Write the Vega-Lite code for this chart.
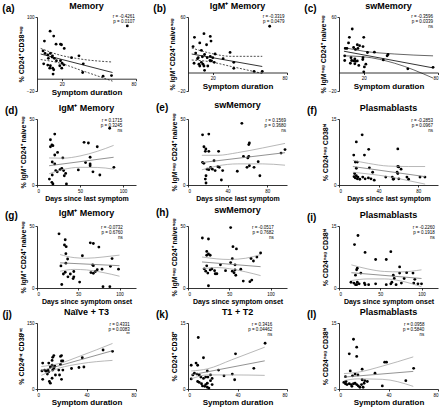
{
"$schema": "https://vega.github.io/schema/vega-lite/v6.json",
"padding": {"left": 2, "top": 2, "right": 0, "bottom": 0},
"background": "white",
"columns": 3,
"spacing": {"row": 3, "column": 16},
"datasets": {
"a_p": [{"x":6,"y":61},{"x":10.6,"y":77},{"x":13.5,"y":69},{"x":15.4,"y":56},{"x":19,"y":56},{"x":19.8,"y":55},{"x":22,"y":49},{"x":4.9,"y":45},{"x":6.5,"y":41},{"x":8.7,"y":38.5},{"x":10.8,"y":41},{"x":12.5,"y":37},{"x":9.2,"y":33},{"x":12.2,"y":35},{"x":14,"y":33},{"x":15.7,"y":29},{"x":19,"y":29},{"x":20.3,"y":25},{"x":18.4,"y":21},{"x":21.7,"y":22.5},{"x":20,"y":17},{"x":5.4,"y":24},{"x":8.7,"y":22},{"x":10.8,"y":21},{"x":12.7,"y":17},{"x":13.5,"y":14.5},{"x":13,"y":7.5},{"x":10.3,"y":17},{"x":27.9,"y":34},{"x":33.9,"y":37},{"x":37.4,"y":24},{"x":36.9,"y":10},{"x":53.4,"y":4},{"x":60.2,"y":5},{"x":73,"y":85.5}],
"a_l": [{"s":"fit","x":3,"y":40},{"s":"fit","x":61,"y":10},{"s":"hi","x":3,"y":49},{"s":"hi","x":18,"y":38.5},{"s":"hi","x":35,"y":31.9},{"s":"hi","x":61,"y":27},{"s":"lo","x":3,"y":31},{"s":"lo","x":18,"y":25.5},{"s":"lo","x":35,"y":14},{"s":"lo","x":61,"y":-4}],
"a_s": [{"t":"r = -0.4261\np = 0.0107"}],
"b_p": [{"x":5.2,"y":38},{"x":12.9,"y":42},{"x":9.5,"y":32},{"x":18,"y":39},{"x":18.6,"y":34},{"x":15,"y":30},{"x":4.1,"y":28},{"x":10.8,"y":24},{"x":21.9,"y":20},{"x":6.2,"y":21},{"x":8.3,"y":16},{"x":7.7,"y":15},{"x":11.6,"y":17},{"x":13.4,"y":19.5},{"x":15.5,"y":16},{"x":18,"y":17.5},{"x":20,"y":16},{"x":4.9,"y":10},{"x":8.8,"y":9},{"x":10.8,"y":11},{"x":12.1,"y":9},{"x":12.9,"y":7},{"x":17.8,"y":13},{"x":19,"y":12.6},{"x":21.2,"y":11},{"x":16,"y":7},{"x":13.4,"y":2.3},{"x":34,"y":21.7},{"x":28.4,"y":15},{"x":37,"y":11},{"x":37,"y":4.5},{"x":53.4,"y":1.3},{"x":60,"y":1.3},{"x":66,"y":50},{"x":9.5,"y":7}],
"b_l": [{"s":"fit","x":3,"y":20},{"s":"fit","x":60,"y":6.5},{"s":"hi","x":3,"y":26.5},{"s":"hi","x":16,"y":21.5},{"s":"hi","x":35,"y":17.5},{"s":"hi","x":60,"y":17.5},{"s":"lo","x":3,"y":13.5},{"s":"lo","x":16,"y":12},{"s":"lo","x":35,"y":6.5},{"s":"lo","x":60,"y":-1}],
"b_s": [{"t":"r = -0.3319\np = 0.0479"}],
"c_p": [{"x":10.7,"y":47},{"x":8.4,"y":38},{"x":20,"y":38},{"x":7.7,"y":32},{"x":14.8,"y":30},{"x":16.6,"y":29},{"x":11.8,"y":27},{"x":19.4,"y":28},{"x":5.1,"y":26},{"x":6.4,"y":26},{"x":13.3,"y":25},{"x":15.3,"y":26},{"x":23,"y":21.6},{"x":28.6,"y":22},{"x":4.6,"y":18},{"x":9.7,"y":16},{"x":12.8,"y":14.6},{"x":19.4,"y":16},{"x":19.2,"y":14},{"x":4.6,"y":13},{"x":10.2,"y":13},{"x":11.8,"y":12.5},{"x":13.3,"y":12},{"x":14.8,"y":12.5},{"x":9.2,"y":10},{"x":12.8,"y":9.4},{"x":16,"y":7.7},{"x":21.7,"y":9},{"x":20.5,"y":6},{"x":20,"y":0.7},{"x":38.9,"y":18},{"x":39.6,"y":19.5},{"x":35.8,"y":13.6},{"x":55.6,"y":4},{"x":76,"y":5.6}],
"c_l": [{"s":"fit","x":4,"y":23},{"s":"fit","x":76,"y":5},{"s":"hi","x":4,"y":27},{"s":"hi","x":20,"y":23},{"s":"hi","x":45,"y":20},{"s":"hi","x":76,"y":18},{"s":"lo","x":4,"y":18},{"s":"lo","x":20,"y":17},{"s":"lo","x":45,"y":10},{"s":"lo","x":76,"y":-6}],
"c_s": [{"t":"r = -0.3596\np = 0.0339\nns"}],
"d_p": [{"x":20.6,"y":38.6},{"x":15.6,"y":34.3},{"x":17.3,"y":30.3},{"x":18.5,"y":29.8},{"x":15.6,"y":29},{"x":23.9,"y":24.7},{"x":20.6,"y":22.7},{"x":17.7,"y":17.4},{"x":20.6,"y":16},{"x":21.8,"y":10.9},{"x":23.5,"y":10},{"x":26.7,"y":11.6},{"x":28.8,"y":12.6},{"x":30.9,"y":10.9},{"x":33.3,"y":8.8},{"x":31.7,"y":7},{"x":30,"y":20.5},{"x":17.7,"y":7.6},{"x":14.4,"y":4.5},{"x":17.3,"y":2},{"x":18.5,"y":0.8},{"x":34.2,"y":0.8},{"x":48,"y":11.4},{"x":54.7,"y":32.3},{"x":59.7,"y":31.8},{"x":56.4,"y":17},{"x":61.7,"y":16},{"x":61.7,"y":14.6},{"x":61.7,"y":21},{"x":65,"y":10},{"x":70,"y":29},{"x":73,"y":7.6},{"x":84.4,"y":43},{"x":89.3,"y":13.4}],
"d_l": [{"s":"fit","x":14,"y":14.6},{"s":"fit","x":89,"y":21},{"s":"hi","x":14,"y":20.5},{"s":"hi","x":30,"y":20.3},{"s":"hi","x":50,"y":22},{"s":"hi","x":70,"y":25.5},{"s":"hi","x":89,"y":30},{"s":"lo","x":14,"y":8.5},{"s":"lo","x":30,"y":11.7},{"s":"lo","x":50,"y":13.4},{"s":"lo","x":70,"y":13.3},{"s":"lo","x":89,"y":12}],
"d_s": [{"t":"r = 0.1715\np = 0.3245\nns"}],
"e_p": [{"x":14.7,"y":38},{"x":21,"y":38.6},{"x":16.1,"y":29},{"x":18,"y":27.3},{"x":17.5,"y":25.5},{"x":21,"y":25.5},{"x":30.9,"y":25.5},{"x":14.7,"y":17.2},{"x":16,"y":16.4},{"x":26.3,"y":18.4},{"x":19.3,"y":12},{"x":21,"y":11.6},{"x":22.8,"y":13.4},{"x":24.6,"y":12},{"x":27.4,"y":10.9},{"x":30.2,"y":13.9},{"x":31.6,"y":13.4},{"x":35,"y":10.9},{"x":33.7,"y":3.8},{"x":18.2,"y":7},{"x":17.5,"y":4.5},{"x":18.2,"y":1.5},{"x":49.8,"y":10.4},{"x":54.4,"y":46.7},{"x":56,"y":21.7},{"x":61.4,"y":30.6},{"x":62,"y":31.8},{"x":60.4,"y":20.5},{"x":61.4,"y":21.7},{"x":59.6,"y":13.4},{"x":62,"y":14.6},{"x":66.7,"y":13.4},{"x":70.9,"y":17.7},{"x":72.6,"y":7},{"x":94,"y":24.2},{"x":98,"y":26.8}],
"e_l": [{"s":"fit","x":14,"y":17},{"s":"fit","x":98,"y":24.5},{"s":"hi","x":14,"y":22.5},{"s":"hi","x":30,"y":22.5},{"s":"hi","x":50,"y":24.5},{"s":"hi","x":75,"y":28},{"s":"hi","x":98,"y":31.5},{"s":"lo","x":14,"y":11.5},{"s":"lo","x":30,"y":14.5},{"s":"lo","x":50,"y":16},{"s":"lo","x":75,"y":16},{"s":"lo","x":98,"y":15}],
"e_s": [{"t":"r = 0.1569\np = 0.3680\nns"}],
"f_p": [{"x":23.4,"y":11.4},{"x":17.5,"y":9.8},{"x":30,"y":8.1},{"x":59.4,"y":8.2},{"x":14.9,"y":6.8},{"x":25.7,"y":6.8},{"x":16.5,"y":5.2},{"x":18.5,"y":5.2},{"x":59.4,"y":4.2},{"x":60.4,"y":4.1},{"x":30.7,"y":3.9},{"x":17.5,"y":3.8},{"x":62.7,"y":3.6},{"x":34,"y":2.9},{"x":58.7,"y":2.9},{"x":15.8,"y":2.6},{"x":59.4,"y":2.6},{"x":17.5,"y":2.1},{"x":19.1,"y":1.8},{"x":16.5,"y":1.6},{"x":18.5,"y":1.4},{"x":21,"y":1.3},{"x":24,"y":1.8},{"x":26.4,"y":1.4},{"x":29.7,"y":1.6},{"x":32.3,"y":1.4},{"x":35.6,"y":1.1},{"x":47.2,"y":1.8},{"x":53.8,"y":1.8},{"x":54.8,"y":1.3},{"x":55.4,"y":1.4},{"x":60.4,"y":1.4},{"x":68.6,"y":1.8},{"x":70.3,"y":1.3},{"x":81.8,"y":1.8},{"x":86.8,"y":1.8},{"x":15.2,"y":1.9}],
"f_l": [{"s":"fit","x":14,"y":4.2},{"s":"fit","x":87,"y":1.9},{"s":"hi","x":14,"y":5.6},{"s":"hi","x":30,"y":4.9},{"s":"hi","x":50,"y":4.3},{"s":"hi","x":70,"y":4.2},{"s":"hi","x":87,"y":4.2},{"s":"lo","x":14,"y":2.9},{"s":"lo","x":30,"y":2.5},{"s":"lo","x":50,"y":1.9},{"s":"lo","x":70,"y":1.0},{"s":"lo","x":87,"y":0.2}],
"f_s": [{"t":"r = -0.2853\np = 0.0967\nns"}],
"g_p": [{"x":26.7,"y":43.7},{"x":34.2,"y":38.9},{"x":33.3,"y":34.7},{"x":35.4,"y":33.3},{"x":35,"y":27.7},{"x":37.1,"y":23.4},{"x":35,"y":20},{"x":29,"y":17.8},{"x":32,"y":11.3},{"x":34.2,"y":12.7},{"x":37.5,"y":9},{"x":40.4,"y":11.3},{"x":43.8,"y":7.6},{"x":44.6,"y":9},{"x":44.6,"y":13.3},{"x":51.7,"y":4.8},{"x":55,"y":26},{"x":64.6,"y":36.4},{"x":68.3,"y":35.9},{"x":65.4,"y":12.4},{"x":68.3,"y":11.9},{"x":67.5,"y":18.6},{"x":68.3,"y":18},{"x":70.8,"y":13.3},{"x":73,"y":14.7},{"x":75,"y":33},{"x":78.8,"y":15.2},{"x":80,"y":1.1},{"x":88.3,"y":1.1},{"x":89,"y":17.5},{"x":91,"y":23.7},{"x":98.8,"y":15.2},{"x":30,"y":2.8}],
"g_l": [{"s":"fit","x":28,"y":20.3},{"s":"fit","x":100,"y":18},{"s":"hi","x":28,"y":27},{"s":"hi","x":45,"y":24.5},{"s":"hi","x":60,"y":24},{"s":"hi","x":80,"y":25},{"s":"hi","x":100,"y":26.5},{"s":"lo","x":28,"y":13.5},{"s":"lo","x":45,"y":15},{"s":"lo","x":60,"y":14.6},{"s":"lo","x":80,"y":12.5},{"s":"lo","x":100,"y":9.5}],
"g_s": [{"t":"r = -0.0732\np = 0.6760\nns"}],
"h_p": [{"x":17.4,"y":40.3},{"x":24.8,"y":39.5},{"x":22.7,"y":29.5},{"x":24.8,"y":27.4},{"x":22.7,"y":26.4},{"x":26.9,"y":26.4},{"x":51.7,"y":48.7},{"x":54.5,"y":33.3},{"x":58.7,"y":31.5},{"x":53.7,"y":23.6},{"x":51.7,"y":20.5},{"x":57,"y":18.7},{"x":19.8,"y":15.4},{"x":22.7,"y":17.9},{"x":21.5,"y":13.6},{"x":24,"y":12},{"x":26.9,"y":14.6},{"x":28.9,"y":15.4},{"x":32.2,"y":14},{"x":33,"y":11.5},{"x":35,"y":11.5},{"x":39.3,"y":18.7},{"x":45.5,"y":14},{"x":53.7,"y":13.6},{"x":55.8,"y":12.3},{"x":57.9,"y":10.3},{"x":57,"y":14.6},{"x":64,"y":15.1},{"x":67,"y":5.6},{"x":75,"y":5.1},{"x":77.3,"y":6.4},{"x":76.4,"y":23.8},{"x":79.3,"y":21.8},{"x":83.5,"y":24.9},{"x":88,"y":28.2},{"x":24.8,"y":1.8}],
"h_l": [{"s":"fit","x":17,"y":21},{"s":"fit","x":88,"y":17.2},{"s":"hi","x":17,"y":25},{"s":"hi","x":35,"y":23.5},{"s":"hi","x":50,"y":23},{"s":"hi","x":70,"y":24},{"s":"hi","x":88,"y":27},{"s":"lo","x":17,"y":15.5},{"s":"lo","x":35,"y":16.5},{"s":"lo","x":50,"y":15.6},{"s":"lo","x":70,"y":13},{"s":"lo","x":88,"y":10}],
"h_s": [{"t":"r = -0.0517\np = 0.7682\nns"}],
"i_p": [{"x":23,"y":12.7},{"x":18.8,"y":10.5},{"x":31.6,"y":8.6},{"x":44.4,"y":6.9},{"x":57.3,"y":6.9},{"x":62.8,"y":8.8},{"x":22.2,"y":4.8},{"x":21.4,"y":4.4},{"x":26.5,"y":3.6},{"x":20,"y":3.1},{"x":65.8,"y":3.1},{"x":73.5,"y":5.1},{"x":73.5,"y":3.6},{"x":82,"y":3.7},{"x":79,"y":2.3},{"x":67,"y":2.3},{"x":14.5,"y":1.4},{"x":18,"y":1.2},{"x":20,"y":0.8},{"x":22.2,"y":1.4},{"x":21.4,"y":0.8},{"x":24.4,"y":1},{"x":30.8,"y":1.2},{"x":31.6,"y":0.8},{"x":35.9,"y":0.8},{"x":44.4,"y":1},{"x":57.3,"y":0.8},{"x":62.8,"y":1},{"x":64.1,"y":1.4},{"x":69.2,"y":0.8},{"x":75.6,"y":1.2},{"x":90.6,"y":1.2},{"x":95.7,"y":1},{"x":89.7,"y":3.6},{"x":91.9,"y":2.1},{"x":100,"y":1}],
"i_l": [{"s":"fit","x":15,"y":3.7},{"s":"fit","x":100,"y":2.3},{"s":"hi","x":15,"y":5.6},{"s":"hi","x":35,"y":4.6},{"s":"hi","x":55,"y":4.0},{"s":"hi","x":75,"y":3.9},{"s":"hi","x":100,"y":4.4},{"s":"lo","x":15,"y":1.8},{"s":"lo","x":35,"y":2.2},{"s":"lo","x":55,"y":2.2},{"s":"lo","x":75,"y":1.7},{"s":"lo","x":100,"y":0.3}],
"i_s": [{"t":"r = -0.2260\np = 0.1918\nns"}],
"j_p": [{"x":4.6,"y":59},{"x":4,"y":41},{"x":6.2,"y":43},{"x":7.3,"y":40.6},{"x":8.9,"y":43},{"x":9.5,"y":39},{"x":8.4,"y":34},{"x":4.6,"y":22},{"x":10.8,"y":50},{"x":12.2,"y":54},{"x":12.7,"y":43},{"x":13.6,"y":46.6},{"x":14.4,"y":51.7},{"x":12.2,"y":65},{"x":12.7,"y":72},{"x":13.6,"y":76},{"x":9.5,"y":59},{"x":17.6,"y":43},{"x":19,"y":56},{"x":19.8,"y":63.6},{"x":19,"y":74},{"x":19.8,"y":76},{"x":18.2,"y":31.8},{"x":20.9,"y":43},{"x":19.8,"y":22},{"x":14.9,"y":31.8},{"x":12.2,"y":24.4},{"x":10,"y":17},{"x":10.8,"y":13.3},{"x":27.9,"y":46.6},{"x":33.9,"y":48.8},{"x":37.9,"y":50},{"x":36.6,"y":71},{"x":53.4,"y":88.7},{"x":61,"y":85.7},{"x":20.9,"y":63.6}],
"j_l": [{"s":"fit","x":3.5,"y":41.4},{"s":"fit","x":61,"y":87},{"s":"hi","x":3.5,"y":51},{"s":"hi","x":18,"y":58},{"s":"hi","x":35,"y":75},{"s":"hi","x":61,"y":103.5},{"s":"lo","x":3.5,"y":31},{"s":"lo","x":18,"y":47.5},{"s":"lo","x":35,"y":57.5},{"s":"lo","x":61,"y":65}],
"j_s": [{"t":"r = 0.4331\np = 0.0083\n**"}],
"k_p": [{"x":8.3,"y":11.7},{"x":12.5,"y":7.1},{"x":2.6,"y":5.4},{"x":6.5,"y":5.9},{"x":7.8,"y":5.4},{"x":3.9,"y":3.2},{"x":5.2,"y":3.6},{"x":7.3,"y":3.4},{"x":9.1,"y":3.2},{"x":2.6,"y":2.3},{"x":10.4,"y":2.7},{"x":12.5,"y":2.4},{"x":14.3,"y":2.7},{"x":15.6,"y":4.1},{"x":16.1,"y":2.7},{"x":18.2,"y":3.2},{"x":19.5,"y":2.4},{"x":7.8,"y":1.7},{"x":9.1,"y":1.5},{"x":10.9,"y":1.2},{"x":11.7,"y":0.7},{"x":13.5,"y":0.6},{"x":14.3,"y":1},{"x":15.6,"y":0.4},{"x":16.9,"y":0.2},{"x":19.5,"y":1},{"x":15.6,"y":1.3},{"x":24.7,"y":4.3},{"x":29.1,"y":3},{"x":35.8,"y":3.4},{"x":37.7,"y":2.1},{"x":38.4,"y":8},{"x":53.2,"y":4.7},{"x":62.3,"y":10.4},{"x":18.2,"y":1.9}],
"k_l": [{"s":"fit","x":2.6,"y":3.2},{"s":"fit","x":62,"y":6.4},{"s":"hi","x":2.6,"y":4.1},{"s":"hi","x":16,"y":4.6},{"s":"hi","x":35,"y":6.6},{"s":"hi","x":62,"y":9.5},{"s":"lo","x":2.6,"y":2.3},{"s":"lo","x":16,"y":3.2},{"s":"lo","x":35,"y":3.2},{"s":"lo","x":62,"y":3.1}],
"k_s": [{"t":"r = 0.3416\np = 0.04462\nns"}],
"l_p": [{"x":11.7,"y":11.3},{"x":14.3,"y":9.5},{"x":8.3,"y":8},{"x":14.3,"y":7.4},{"x":9.1,"y":4.1},{"x":13,"y":3.4},{"x":15.3,"y":3.2},{"x":18.7,"y":4.5},{"x":10.9,"y":3},{"x":5.2,"y":2.8},{"x":29.1,"y":3.6},{"x":36.9,"y":6.1},{"x":38.4,"y":6.1},{"x":18.7,"y":2.1},{"x":20.8,"y":1.9},{"x":22.9,"y":1.7},{"x":3.9,"y":1.5},{"x":5.2,"y":1.2},{"x":6.5,"y":1},{"x":8.3,"y":1.2},{"x":9.9,"y":1},{"x":10.4,"y":0.6},{"x":11.7,"y":1.2},{"x":13,"y":1.3},{"x":14.3,"y":1},{"x":15.6,"y":0.7},{"x":16.9,"y":0.4},{"x":18.2,"y":1},{"x":19.5,"y":0.4},{"x":35,"y":0.7},{"x":54,"y":1.9},{"x":60.3,"y":4.7},{"x":20.3,"y":1.3},{"x":5.7,"y":1.7}],
"l_l": [{"s":"fit","x":4,"y":2.7},{"s":"fit","x":60,"y":4.0},{"s":"hi","x":4,"y":3.5},{"s":"hi","x":15,"y":3.8},{"s":"hi","x":35,"y":5.2},{"s":"hi","x":60,"y":7.3},{"s":"lo","x":4,"y":1.9},{"s":"lo","x":15,"y":2.3},{"s":"lo","x":35,"y":2.2},{"s":"lo","x":60,"y":0.6}],
"l_s": [{"t":"r = 0.0958\np = 0.5840\nns"}]
},
"concat": [
{"title": {"text": "(a)", "anchor": "start", "frame": "bounds", "fontSize": 10, "fontWeight": "bold", "dx": -15, "offset": -12},
 "vconcat": [{"width": 99, "height": 74,
  "title": {"text": "Memory", "fontSize": 9, "fontWeight": "bold", "anchor": "middle", "frame": "group", "offset": 3},
  "layer": [
   {"data": {"name": "a_p"}, "mark": {"type": "circle", "size": 8, "color": "black", "opacity": 1},
    "encoding": {"x": {"field": "x", "type": "quantitative", "scale": {"domain": [0, 80], "nice": false}, "axis": {"values": [20, 40, 60, 80], "offset": -12.3, "title": "Symptom duration", "titleFontSize": 8}},
     "y": {"field": "y", "type": "quantitative", "scale": {"domain": [-20, 100], "nice": false}, "axis": {"values": [-20, 0, 20, 40, 60, 80, 100], "title": "% CD24⁺ CD38ⁿᵉᵍ"}}}},
   {"data": {"name": "a_l"}, "transform": [{"filter": "datum.s == 'fit'"}], "mark": {"type": "line", "color": "black", "strokeWidth": 0.8}, "encoding": {"x": {"field": "x", "type": "quantitative"}, "y": {"field": "y", "type": "quantitative"}}},
   {"data": {"name": "a_l"}, "transform": [{"filter": "datum.s != 'fit'"}], "mark": {"type": "line", "color": "black", "strokeWidth": 0.7, "strokeDash": [2, 1.5], "interpolate": "monotone"}, "encoding": {"x": {"field": "x", "type": "quantitative"}, "y": {"field": "y", "type": "quantitative"}, "detail": {"field": "s"}}},
   {"data": {"name": "a_s"}, "mark": {"type": "text", "align": "right", "baseline": "top", "fontSize": 4.5, "lineBreak": "\n", "lineHeight": 5, "dy": -3}, "encoding": {"x": {"datum": 79}, "y": {"datum": 100}, "text": {"field": "t"}}}
  ]}]},
{"title": {"text": "(b)", "anchor": "start", "frame": "bounds", "fontSize": 10, "fontWeight": "bold", "dx": -15, "offset": -12},
 "vconcat": [{"width": 99, "height": 74,
  "title": {"text": "IgM⁺ Memory", "fontSize": 9, "fontWeight": "bold", "anchor": "middle", "frame": "group", "offset": 3},
  "layer": [
   {"data": {"name": "b_p"}, "mark": {"type": "circle", "size": 8, "color": "black", "opacity": 1},
    "encoding": {"x": {"field": "x", "type": "quantitative", "scale": {"domain": [0, 80], "nice": false}, "axis": {"values": [20, 40, 60, 80], "offset": -18.5, "title": "Symptom duration", "titleFontSize": 8}},
     "y": {"field": "y", "type": "quantitative", "scale": {"domain": [-20, 60], "nice": false}, "axis": {"values": [-20, 0, 20, 40, 60], "title": "% IgM⁺ CD24⁺ naiveⁿᵉᵍ"}}}},
   {"data": {"name": "b_l"}, "transform": [{"filter": "datum.s == 'fit'"}], "mark": {"type": "line", "color": "black", "strokeWidth": 0.8}, "encoding": {"x": {"field": "x", "type": "quantitative"}, "y": {"field": "y", "type": "quantitative"}}},
   {"data": {"name": "b_l"}, "transform": [{"filter": "datum.s != 'fit'"}], "mark": {"type": "line", "color": "black", "strokeWidth": 0.7, "strokeDash": [2, 1.5], "interpolate": "monotone"}, "encoding": {"x": {"field": "x", "type": "quantitative"}, "y": {"field": "y", "type": "quantitative"}, "detail": {"field": "s"}}},
   {"data": {"name": "b_s"}, "mark": {"type": "text", "align": "right", "baseline": "top", "fontSize": 4.5, "lineBreak": "\n", "lineHeight": 5, "dy": -3}, "encoding": {"x": {"datum": 78}, "y": {"datum": 60}, "text": {"field": "t"}}}
  ]}]},
{"title": {"text": "(c)", "anchor": "start", "frame": "bounds", "fontSize": 10, "fontWeight": "bold", "dx": -15, "offset": -12},
 "vconcat": [{"width": 99, "height": 74,
  "title": {"text": "swMemory", "fontSize": 9, "fontWeight": "bold", "anchor": "middle", "frame": "group", "offset": 3},
  "layer": [
   {"data": {"name": "c_p"}, "mark": {"type": "circle", "size": 8, "color": "black", "opacity": 1},
    "encoding": {"x": {"field": "x", "type": "quantitative", "scale": {"domain": [0, 80], "nice": false}, "axis": {"values": [20, 40, 60, 80], "offset": -18.5, "title": "Symptom duration", "titleFontSize": 8}},
     "y": {"field": "y", "type": "quantitative", "scale": {"domain": [-20, 60], "nice": false}, "axis": {"values": [-20, 0, 20, 40, 60], "title": "% IgMⁿᵉᵍ CD24⁺ naiveⁿᵉᵍ"}}}},
   {"data": {"name": "c_l"}, "transform": [{"filter": "datum.s == 'fit'"}], "mark": {"type": "line", "color": "black", "strokeWidth": 0.8}, "encoding": {"x": {"field": "x", "type": "quantitative"}, "y": {"field": "y", "type": "quantitative"}}},
   {"data": {"name": "c_l"}, "transform": [{"filter": "datum.s != 'fit'"}], "mark": {"type": "line", "color": "black", "strokeWidth": 0.6, "interpolate": "monotone"}, "encoding": {"x": {"field": "x", "type": "quantitative"}, "y": {"field": "y", "type": "quantitative"}, "detail": {"field": "s"}}},
   {"data": {"name": "c_s"}, "mark": {"type": "text", "align": "right", "baseline": "top", "fontSize": 4.5, "lineBreak": "\n", "lineHeight": 5, "dy": -3}, "encoding": {"x": {"datum": 76}, "y": {"datum": 60}, "text": {"field": "t"}}}
  ]}]},
{"title": {"text": "(d)", "anchor": "start", "frame": "bounds", "fontSize": 10, "fontWeight": "bold", "dx": -15, "offset": -12},
 "vconcat": [{"width": 99, "height": 66,
  "title": {"text": "IgM⁺ Memory", "fontSize": 9, "fontWeight": "bold", "anchor": "middle", "frame": "group", "offset": 3},
  "layer": [
   {"data": {"name": "d_p"}, "mark": {"type": "circle", "size": 8, "color": "black", "opacity": 1},
    "encoding": {"x": {"field": "x", "type": "quantitative", "scale": {"domain": [0, 115], "nice": false}, "axis": {"values": [0, 50, 100], "title": "Days since last symptom"}},
     "y": {"field": "y", "type": "quantitative", "scale": {"domain": [0, 50], "nice": false}, "axis": {"values": [0, 10, 20, 30, 40, 50], "title": "% IgM⁺ CD24⁺ naiveⁿᵉᵍ"}}}},
   {"data": {"name": "d_l"}, "transform": [{"filter": "datum.s == 'fit'"}], "mark": {"type": "line", "color": "#777", "strokeWidth": 0.8}, "encoding": {"x": {"field": "x", "type": "quantitative"}, "y": {"field": "y", "type": "quantitative"}}},
   {"data": {"name": "d_l"}, "transform": [{"filter": "datum.s != 'fit'"}], "mark": {"type": "line", "color": "#999", "strokeWidth": 0.7, "interpolate": "monotone"}, "encoding": {"x": {"field": "x", "type": "quantitative"}, "y": {"field": "y", "type": "quantitative"}, "detail": {"field": "s"}}},
   {"data": {"name": "d_s"}, "mark": {"type": "text", "align": "right", "baseline": "top", "fontSize": 4.5, "lineBreak": "\n", "lineHeight": 5, "dy": -1}, "encoding": {"x": {"datum": 99}, "y": {"datum": 50}, "text": {"field": "t"}}}
  ]}]},
{"title": {"text": "(e)", "anchor": "start", "frame": "bounds", "fontSize": 10, "fontWeight": "bold", "dx": -15, "offset": -12},
 "vconcat": [{"width": 99, "height": 66,
  "title": {"text": "swMemory", "fontSize": 9, "fontWeight": "bold", "anchor": "middle", "frame": "group", "offset": 3},
  "layer": [
   {"data": {"name": "e_p"}, "mark": {"type": "circle", "size": 8, "color": "black", "opacity": 1},
    "encoding": {"x": {"field": "x", "type": "quantitative", "scale": {"domain": [0, 100], "nice": false}, "axis": {"values": [0, 20, 40, 60, 80, 100], "title": "Days since last symptom"}},
     "y": {"field": "y", "type": "quantitative", "scale": {"domain": [0, 50], "nice": false}, "axis": {"values": [0, 10, 20, 30, 40, 50], "title": "% IgMⁿᵉᵍ CD24⁺ naiveⁿᵉᵍ"}}}},
   {"data": {"name": "e_l"}, "transform": [{"filter": "datum.s == 'fit'"}], "mark": {"type": "line", "color": "#777", "strokeWidth": 0.8}, "encoding": {"x": {"field": "x", "type": "quantitative"}, "y": {"field": "y", "type": "quantitative"}}},
   {"data": {"name": "e_l"}, "transform": [{"filter": "datum.s != 'fit'"}], "mark": {"type": "line", "color": "#999", "strokeWidth": 0.7, "interpolate": "monotone"}, "encoding": {"x": {"field": "x", "type": "quantitative"}, "y": {"field": "y", "type": "quantitative"}, "detail": {"field": "s"}}},
   {"data": {"name": "e_s"}, "mark": {"type": "text", "align": "right", "baseline": "top", "fontSize": 4.5, "lineBreak": "\n", "lineHeight": 5, "dy": -1}, "encoding": {"x": {"datum": 99}, "y": {"datum": 50}, "text": {"field": "t"}}}
  ]}]},
{"title": {"text": "(f)", "anchor": "start", "frame": "bounds", "fontSize": 10, "fontWeight": "bold", "dx": -15, "offset": -12},
 "vconcat": [{"width": 99, "height": 66,
  "title": {"text": "Plasmablasts", "fontSize": 9, "fontWeight": "bold", "anchor": "middle", "frame": "group", "offset": 3},
  "layer": [
   {"data": {"name": "f_p"}, "mark": {"type": "circle", "size": 8, "color": "black", "opacity": 1},
    "encoding": {"x": {"field": "x", "type": "quantitative", "scale": {"domain": [0, 100], "nice": false}, "axis": {"values": [0, 20, 40, 60, 80, 100], "title": "Days since last symptom"}},
     "y": {"field": "y", "type": "quantitative", "scale": {"domain": [0, 15], "nice": false}, "axis": {"values": [0, 5, 10, 15], "title": "% CD24ⁿᵉᵍ CD38ʰⁱ"}}}},
   {"data": {"name": "f_l"}, "transform": [{"filter": "datum.s == 'fit'"}], "mark": {"type": "line", "color": "#777", "strokeWidth": 0.8}, "encoding": {"x": {"field": "x", "type": "quantitative"}, "y": {"field": "y", "type": "quantitative"}}},
   {"data": {"name": "f_l"}, "transform": [{"filter": "datum.s != 'fit'"}], "mark": {"type": "line", "color": "#999", "strokeWidth": 0.7, "interpolate": "monotone"}, "encoding": {"x": {"field": "x", "type": "quantitative"}, "y": {"field": "y", "type": "quantitative"}, "detail": {"field": "s"}}},
   {"data": {"name": "f_s"}, "mark": {"type": "text", "align": "right", "baseline": "top", "fontSize": 4.5, "lineBreak": "\n", "lineHeight": 5, "dy": -1}, "encoding": {"x": {"datum": 95}, "y": {"datum": 15}, "text": {"field": "t"}}}
  ]}]},
{"title": {"text": "(g)", "anchor": "start", "frame": "bounds", "fontSize": 10, "fontWeight": "bold", "dx": -15, "offset": -12},
 "vconcat": [{"width": 99, "height": 62,
  "title": {"text": "IgM⁺ Memory", "fontSize": 9, "fontWeight": "bold", "anchor": "middle", "frame": "group", "offset": 3},
  "layer": [
   {"data": {"name": "g_p"}, "mark": {"type": "circle", "size": 8, "color": "black", "opacity": 1},
    "encoding": {"x": {"field": "x", "type": "quantitative", "scale": {"domain": [0, 120], "nice": false}, "axis": {"values": [0, 50, 100], "title": "Days since symptom onset"}},
     "y": {"field": "y", "type": "quantitative", "scale": {"domain": [0, 50], "nice": false}, "axis": {"values": [0, 10, 20, 30, 40, 50], "title": "% IgM⁺ CD24⁺ naiveⁿᵉᵍ"}}}},
   {"data": {"name": "g_l"}, "transform": [{"filter": "datum.s == 'fit'"}], "mark": {"type": "line", "color": "#777", "strokeWidth": 0.8}, "encoding": {"x": {"field": "x", "type": "quantitative"}, "y": {"field": "y", "type": "quantitative"}}},
   {"data": {"name": "g_l"}, "transform": [{"filter": "datum.s != 'fit'"}], "mark": {"type": "line", "color": "#999", "strokeWidth": 0.7, "interpolate": "monotone"}, "encoding": {"x": {"field": "x", "type": "quantitative"}, "y": {"field": "y", "type": "quantitative"}, "detail": {"field": "s"}}},
   {"data": {"name": "g_s"}, "mark": {"type": "text", "align": "right", "baseline": "top", "fontSize": 4.5, "lineBreak": "\n", "lineHeight": 5, "dy": -1}, "encoding": {"x": {"datum": 104}, "y": {"datum": 50}, "text": {"field": "t"}}}
  ]}]},
{"title": {"text": "(h)", "anchor": "start", "frame": "bounds", "fontSize": 10, "fontWeight": "bold", "dx": -15, "offset": -12},
 "vconcat": [{"width": 99, "height": 62,
  "title": {"text": "swMemory", "fontSize": 9, "fontWeight": "bold", "anchor": "middle", "frame": "group", "offset": 3},
  "layer": [
   {"data": {"name": "h_p"}, "mark": {"type": "circle", "size": 8, "color": "black", "opacity": 1},
    "encoding": {"x": {"field": "x", "type": "quantitative", "scale": {"domain": [0, 120], "nice": false}, "axis": {"values": [0, 50, 100], "title": "Days since symptom onset"}},
     "y": {"field": "y", "type": "quantitative", "scale": {"domain": [0, 50], "nice": false}, "axis": {"values": [0, 10, 20, 30, 40, 50], "title": "% IgMⁿᵉᵍ CD24⁺ naiveⁿᵉᵍ"}}}},
   {"data": {"name": "h_l"}, "transform": [{"filter": "datum.s == 'fit'"}], "mark": {"type": "line", "color": "#777", "strokeWidth": 0.8}, "encoding": {"x": {"field": "x", "type": "quantitative"}, "y": {"field": "y", "type": "quantitative"}}},
   {"data": {"name": "h_l"}, "transform": [{"filter": "datum.s != 'fit'"}], "mark": {"type": "line", "color": "#999", "strokeWidth": 0.7, "interpolate": "monotone"}, "encoding": {"x": {"field": "x", "type": "quantitative"}, "y": {"field": "y", "type": "quantitative"}, "detail": {"field": "s"}}},
   {"data": {"name": "h_s"}, "mark": {"type": "text", "align": "right", "baseline": "top", "fontSize": 4.5, "lineBreak": "\n", "lineHeight": 5, "dy": -1}, "encoding": {"x": {"datum": 104}, "y": {"datum": 50}, "text": {"field": "t"}}}
  ]}]},
{"title": {"text": "(i)", "anchor": "start", "frame": "bounds", "fontSize": 10, "fontWeight": "bold", "dx": -15, "offset": -12},
 "vconcat": [{"width": 99, "height": 62,
  "title": {"text": "Plasmablasts", "fontSize": 9, "fontWeight": "bold", "anchor": "middle", "frame": "group", "offset": 3},
  "layer": [
   {"data": {"name": "i_p"}, "mark": {"type": "circle", "size": 8, "color": "black", "opacity": 1},
    "encoding": {"x": {"field": "x", "type": "quantitative", "scale": {"domain": [0, 120], "nice": false}, "axis": {"values": [0, 50, 100], "title": "Days since symptom onset"}},
     "y": {"field": "y", "type": "quantitative", "scale": {"domain": [0, 15], "nice": false}, "axis": {"values": [0, 5, 10, 15], "title": "% CD24ⁿᵉᵍ CD38ʰⁱ"}}}},
   {"data": {"name": "i_l"}, "transform": [{"filter": "datum.s == 'fit'"}], "mark": {"type": "line", "color": "#777", "strokeWidth": 0.8}, "encoding": {"x": {"field": "x", "type": "quantitative"}, "y": {"field": "y", "type": "quantitative"}}},
   {"data": {"name": "i_l"}, "transform": [{"filter": "datum.s != 'fit'"}], "mark": {"type": "line", "color": "#999", "strokeWidth": 0.7, "interpolate": "monotone"}, "encoding": {"x": {"field": "x", "type": "quantitative"}, "y": {"field": "y", "type": "quantitative"}, "detail": {"field": "s"}}},
   {"data": {"name": "i_s"}, "mark": {"type": "text", "align": "right", "baseline": "top", "fontSize": 4.5, "lineBreak": "\n", "lineHeight": 5, "dy": -1}, "encoding": {"x": {"datum": 116}, "y": {"datum": 15}, "text": {"field": "t"}}}
  ]}]},
{"title": {"text": "(j)", "anchor": "start", "frame": "bounds", "fontSize": 10, "fontWeight": "bold", "dx": -15, "offset": -12},
 "vconcat": [{"width": 99, "height": 66,
  "title": {"text": "Naïve + T3", "fontSize": 9, "fontWeight": "bold", "anchor": "middle", "frame": "group", "offset": 3},
  "layer": [
   {"data": {"name": "j_p"}, "mark": {"type": "circle", "size": 8, "color": "black", "opacity": 1},
    "encoding": {"x": {"field": "x", "type": "quantitative", "scale": {"domain": [0, 80], "nice": false}, "axis": {"values": [0, 20, 40, 60, 80], "title": "Symptom duration", "titleFontSize": 8}},
     "y": {"field": "y", "type": "quantitative", "scale": {"domain": [0, 150], "nice": false}, "axis": {"values": [0, 50, 100, 150], "title": "% CD24ⁱⁿᵗ CD38ⁱⁿᵗ"}}}},
   {"data": {"name": "j_l"}, "transform": [{"filter": "datum.s == 'fit'"}], "mark": {"type": "line", "color": "#777", "strokeWidth": 0.8}, "encoding": {"x": {"field": "x", "type": "quantitative"}, "y": {"field": "y", "type": "quantitative"}}},
   {"data": {"name": "j_l"}, "transform": [{"filter": "datum.s != 'fit'"}], "mark": {"type": "line", "color": "#999", "strokeWidth": 0.7, "interpolate": "monotone"}, "encoding": {"x": {"field": "x", "type": "quantitative"}, "y": {"field": "y", "type": "quantitative"}, "detail": {"field": "s"}}},
   {"data": {"name": "j_s"}, "mark": {"type": "text", "align": "right", "baseline": "top", "fontSize": 4.5, "lineBreak": "\n", "lineHeight": 5, "dy": -1}, "encoding": {"x": {"datum": 75}, "y": {"datum": 150}, "text": {"field": "t"}}}
  ]}]},
{"title": {"text": "(k)", "anchor": "start", "frame": "bounds", "fontSize": 10, "fontWeight": "bold", "dx": -15, "offset": -12},
 "vconcat": [{"width": 99, "height": 66,
  "title": {"text": "T1 + T2", "fontSize": 9, "fontWeight": "bold", "anchor": "middle", "frame": "group", "offset": 3},
  "layer": [
   {"data": {"name": "k_p"}, "mark": {"type": "circle", "size": 8, "color": "black", "opacity": 1},
    "encoding": {"x": {"field": "x", "type": "quantitative", "scale": {"domain": [0, 80], "nice": false}, "axis": {"values": [0, 20, 40, 60, 80], "title": "Symptom duration", "titleFontSize": 8}},
     "y": {"field": "y", "type": "quantitative", "scale": {"domain": [0, 15], "nice": false}, "axis": {"values": [0, 5, 10, 15], "title": "% CD24⁺ CD38⁺"}}}},
   {"data": {"name": "k_l"}, "transform": [{"filter": "datum.s == 'fit'"}], "mark": {"type": "line", "color": "#777", "strokeWidth": 0.8}, "encoding": {"x": {"field": "x", "type": "quantitative"}, "y": {"field": "y", "type": "quantitative"}}},
   {"data": {"name": "k_l"}, "transform": [{"filter": "datum.s != 'fit'"}], "mark": {"type": "line", "color": "#999", "strokeWidth": 0.7, "interpolate": "monotone"}, "encoding": {"x": {"field": "x", "type": "quantitative"}, "y": {"field": "y", "type": "quantitative"}, "detail": {"field": "s"}}},
   {"data": {"name": "k_s"}, "mark": {"type": "text", "align": "right", "baseline": "top", "fontSize": 4.5, "lineBreak": "\n", "lineHeight": 5, "dy": -1}, "encoding": {"x": {"datum": 68}, "y": {"datum": 15}, "text": {"field": "t"}}}
  ]}]},
{"title": {"text": "(l)", "anchor": "start", "frame": "bounds", "fontSize": 10, "fontWeight": "bold", "dx": -15, "offset": -12},
 "vconcat": [{"width": 99, "height": 66,
  "title": {"text": "Plasmablasts", "fontSize": 9, "fontWeight": "bold", "anchor": "middle", "frame": "group", "offset": 3},
  "layer": [
   {"data": {"name": "l_p"}, "mark": {"type": "circle", "size": 8, "color": "black", "opacity": 1},
    "encoding": {"x": {"field": "x", "type": "quantitative", "scale": {"domain": [0, 80], "nice": false}, "axis": {"values": [0, 20, 40, 60, 80], "title": "Symptom duration", "titleFontSize": 8}},
     "y": {"field": "y", "type": "quantitative", "scale": {"domain": [0, 15], "nice": false}, "axis": {"values": [0, 5, 10, 15], "title": "% CD24ⁿᵉᵍ CD38ʰⁱ"}}}},
   {"data": {"name": "l_l"}, "transform": [{"filter": "datum.s == 'fit'"}], "mark": {"type": "line", "color": "#777", "strokeWidth": 0.8}, "encoding": {"x": {"field": "x", "type": "quantitative"}, "y": {"field": "y", "type": "quantitative"}}},
   {"data": {"name": "l_l"}, "transform": [{"filter": "datum.s != 'fit'"}], "mark": {"type": "line", "color": "#999", "strokeWidth": 0.7, "interpolate": "monotone"}, "encoding": {"x": {"field": "x", "type": "quantitative"}, "y": {"field": "y", "type": "quantitative"}, "detail": {"field": "s"}}},
   {"data": {"name": "l_s"}, "mark": {"type": "text", "align": "right", "baseline": "top", "fontSize": 4.5, "lineBreak": "\n", "lineHeight": 5, "dy": -1}, "encoding": {"x": {"datum": 69}, "y": {"datum": 15}, "text": {"field": "t"}}}
  ]}]}
],
"config": {
 "font": "Liberation Sans",
 "view": {"stroke": null},
 "axis": {"grid": false, "domainColor": "black", "tickColor": "black", "domainWidth": 0.8, "tickWidth": 0.8, "tickSize": 2, "labelFontSize": 4.5, "labelColor": "black", "labelPadding": 1, "titleFontSize": 7, "titleFontWeight": "bold", "titleColor": "black", "titlePadding": 2},
 "title": {"color": "black"}
}
}
